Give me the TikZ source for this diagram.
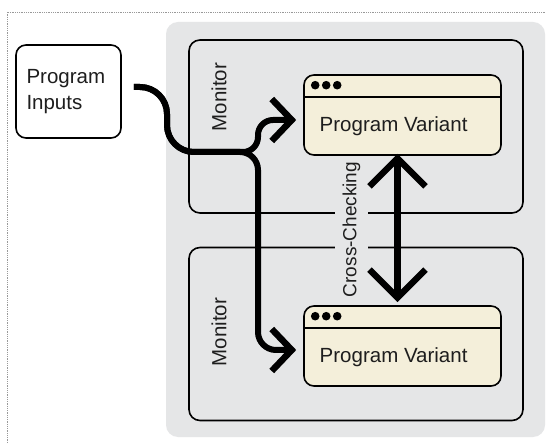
\documentclass[tikz,border=0pt]{standalone}
\usepackage{fontspec}
\setmainfont{Liberation Sans}
\usetikzlibrary{arrows.meta,calc}
\definecolor{bggray}{RGB}{229,230,231}
\definecolor{cream}{RGB}{244,239,218}
\definecolor{txt}{RGB}{30,30,30}
\begin{document}
\begin{tikzpicture}[x=1pt,y=-1pt,
  font=\fontsize{20.5pt}{26pt}\selectfont,
  every node/.style={text=txt},
  framedot/.style={draw=gray!80,line width=0.8pt,dash pattern=on 0.9pt off 0.9pt},
  bgbox/.style={fill=bggray,rounded corners=12pt,minimum width=379pt,minimum height=415pt,inner sep=0pt},
  monbox/.style={draw=black,line width=1.6pt,rounded corners=11pt,minimum width=334pt,minimum height=173pt,inner sep=0pt},
  pvbox/.style={draw=black,fill=cream,line width=1.6pt,rounded corners=10pt,minimum width=197pt,minimum height=80pt,inner sep=0pt},
  inbox/.style={draw=black,fill=white,line width=1.6pt,rounded corners=10pt,minimum width=105pt,minimum height=93pt,text width=84pt,inner xsep=0pt,align=left},
  flow/.style={draw=black,line width=6pt,-{Straight Barb[length=20pt,width=42pt,line width=6.5pt]}},
  xcheck/.style={draw=black,line width=6.5pt,{Straight Barb[length=28pt,width=56pt]}-{Straight Barb[length=28pt,width=56pt]}},
  vlabel/.style={rotate=90,inner sep=0pt},
  cclabel/.style={rotate=90,fill=bggray,font=\fontsize{19pt}{22pt}\selectfont,inner xsep=2pt,inner ysep=8pt}
]
\useasboundingbox (0,0) rectangle (546,443);
\fill[white] (0,0) rectangle (546,443);
\draw[framedot] (7,443) -- (7,12) -- (546,12);
\node[bgbox] (bg) at (355.5,229.5) {};
\node[monbox] (mon1) at (356,126.5) {};
\node[monbox] (mon2) at (356,334) {};
\node[vlabel] (monl1) at (219,97) {Monitor};
\node[vlabel] (monl2) at (219,332) {Monitor};
\node[pvbox] (pv1) at (402.5,115) {};
\node[pvbox] (pv2) at (402.5,346) {};
\foreach \b in {pv1,pv2}{
  \draw[line width=1.6pt] ($(\b.north west)+(0,23)$) -- ($(\b.north east)+(0,23)$);
  \foreach \dx in {12,23,34} \fill[black] ($(\b.north west)+(\dx,11)$) circle (4.3pt);
}
\node[anchor=base west] (pvt1) at ($(pv1.north west)+(13,57)$) {Program Variant};
\node[anchor=base west] (pvt2) at ($(pv2.north west)+(13,57)$) {Program Variant};
\node[inbox] (pin) at (68.5,91.5) {Program\\Inputs};
\node[cclabel] (cc) at (351.5,229.5) {Cross-Checking};
\coordinate (s) at ($(pin.east)+(12,-4.5)$);
\coordinate (t1) at ($(pv1.west)+(-7,5)$);
\coordinate (t2) at ($(pv2.west)+(-7,4)$);
\draw[flow,rounded corners=27pt] (s) -- (167,87) -- (167,152) [rounded corners=15pt] -- (258,152) -- (258,120) -- (t1);
\draw[flow,rounded corners=27pt] (s) -- (167,87) -- (167,152) [rounded corners=18pt] -- (258,152) -- (258,350) -- (t2);
\draw[xcheck] ($(pv1.south)+(-5,-2)$) -- ($(pv2.north)+(-5,-3)$);
\end{tikzpicture}
\end{document}
